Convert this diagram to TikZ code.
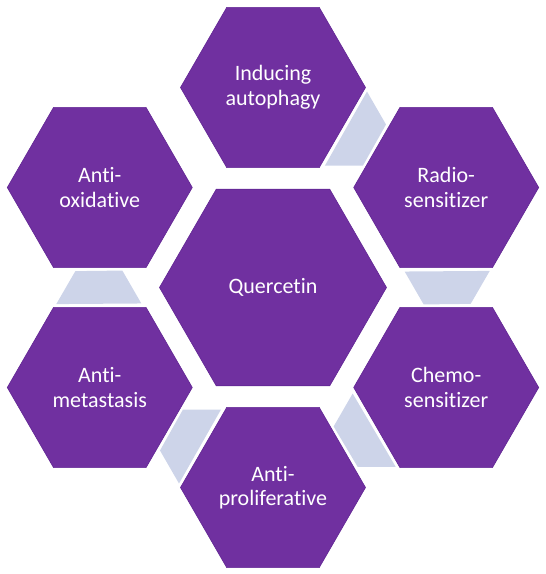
\documentclass[tikz,border=0pt]{standalone}
\usepackage{fontspec}
\setmainfont{Carlito}[Ligatures=NoCommon]
\usetikzlibrary{shapes.geometric}
\definecolor{hexpurple}{RGB}{112,48,160}
\definecolor{hexedge}{RGB}{98,38,148}
\definecolor{linkgrey}{RGB}{205,212,233}

\begin{document}
\begin{tikzpicture}[
    x=1pt, y=1pt,
    hexa/.style={regular polygon, regular polygon sides=6, minimum size=185pt, inner sep=0pt,
        fill=hexpurple, draw=hexedge, line width=0.6pt, text=white, align=center,
        font=\fontsize{22}{24.5}\selectfont},
    hub/.style={hexa, minimum size=227pt},
    link/.style={fill=linkgrey}
]
    \useasboundingbox (-273,-286.5) rectangle (273,287.5);

    \foreach \k in {0,...,4}
        \fill[link, rotate=-60*\k] (94,196) -- (113,163) -- (90,122) -- (52,122) -- cycle;

    \node[hub] (quercetin) at (0,0) {Quercetin};
    \node[hexa] (autophagy) at (90:200) {Inducing\\autophagy};
    \node[hexa] (radio) at (30:200) {Radio-\\sensitizer};
    \node[hexa] (chemo) at (-30:200) {Chemo-\\sensitizer};
    \node[hexa] (prolif) at (-90:200) {Anti-\\proliferative};
    \node[hexa] (metast) at (-150:200) {Anti-\\metastasis};
    \node[hexa] (oxid) at (150:200) {Anti-\\oxidative};
\end{tikzpicture}
\end{document}
